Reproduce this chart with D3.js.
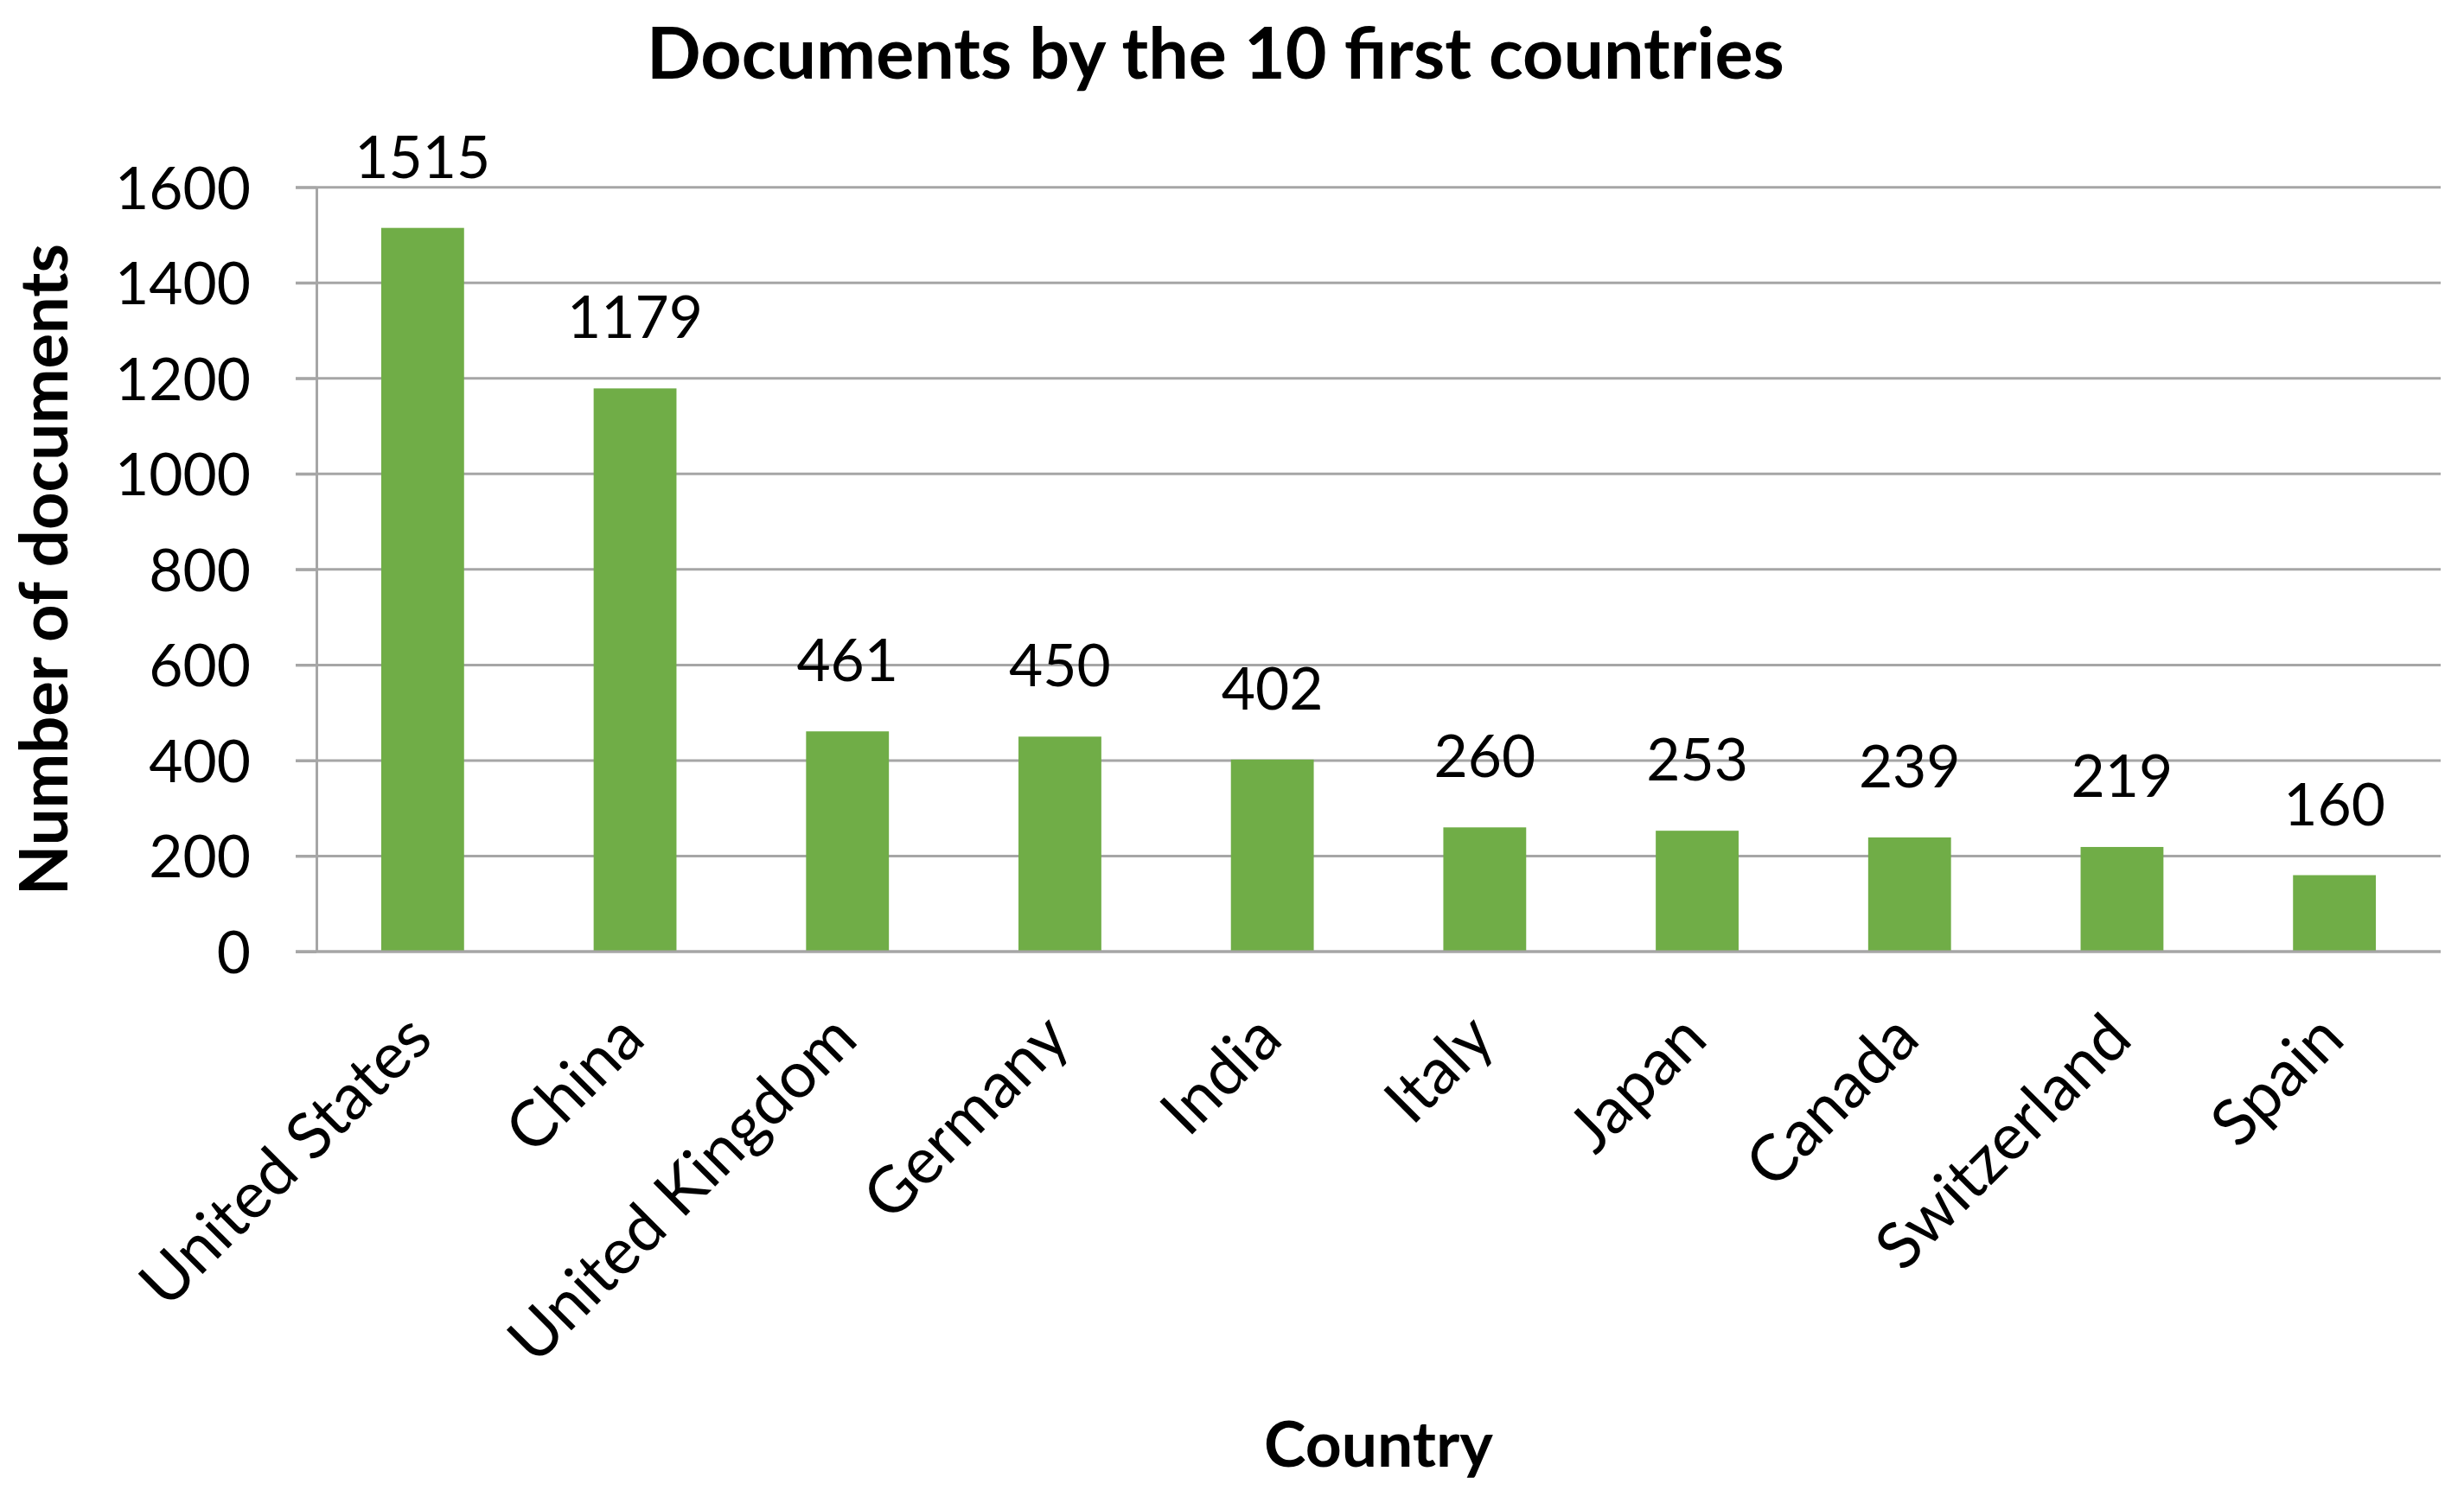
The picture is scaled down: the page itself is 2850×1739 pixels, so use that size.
<!DOCTYPE html>
<html>
<head>
<meta charset="utf-8">
<script src="https://cdn.jsdelivr.net/npm/d3@7"></script>
<style>
  html, body { margin: 0; padding: 0; background: #ffffff; }
  svg { display: block; }
</style>
</head>
<body>
<script>
// ---- data ----
const countries = ["United States", "China", "United Kingdom", "Germany", "India", "Italy", "Japan", "Canada", "Switzerland", "Spain"];
const documents = [1515, 1179, 461, 450, 402, 260, 253, 239, 219, 160];
const yTicks = [0, 200, 400, 600, 800, 1000, 1200, 1400, 1600];
const chartTitle = "Documents by the 10 first countries";
const xTitle = "Country";
const yTitle = "Number of documents";

// ---- layout ----
const W = 2850, H = 1739;
const plot = { left: 366, right: 2823, top: 216.7, bottom: 1101 };
const FONT = "Lato, 'Liberation Sans', sans-serif";

const svg = d3.select("body").append("svg").attr("width", W).attr("height", H);
svg.append("rect").attr("width", W).attr("height", H).attr("fill", "#ffffff");

function fit(text, weight, target) {
  const t = svg.append("text").attr("font-family", FONT).attr("font-weight", weight)
    .attr("font-size", 100).text(text);
  const w = t.node().getComputedTextLength();
  t.remove();
  return 100 * target / w;
}
const tickSize = fit("1600", 400, 157);
const catSize = fit("United States", 400, 439);
const titleSize = fit(chartTitle, 700, 1316);
const xTitleSize = fit(xTitle, 700, 265);
const yTitleSize = fit(yTitle, 700, 754);

const x = d3.scaleBand().domain(countries).range([plot.left, plot.right])
  .paddingInner(0.61).paddingOuter(0.305);
const y = d3.scaleLinear().domain([0, 1600]).range([plot.bottom, plot.top]);

const GRID = "#a6a6a6";

// gridlines
svg.append("g").selectAll("line").data(yTicks).join("line")
  .attr("x1", plot.left - 24).attr("x2", plot.right)
  .attr("y1", d => y(d)).attr("y2", d => y(d))
  .attr("stroke", GRID).attr("stroke-width", 3);

// y axis
const yAxis = d3.axisLeft(y).tickValues(yTicks).tickFormat(d3.format("d"))
  .tickSize(24).tickPadding(52).tickSizeOuter(0);
const gy = svg.append("g").attr("transform", `translate(${plot.left},0)`).call(yAxis);
gy.select(".domain").attr("stroke", GRID).attr("stroke-width", 3);
gy.selectAll(".tick line").attr("stroke", GRID).attr("stroke-width", 3);
gy.selectAll(".tick text").attr("font-family", FONT).attr("font-size", tickSize)
  .attr("fill", "#000").attr("dy", "0.36em");

// bars
svg.append("g").selectAll("rect").data(countries).join("rect")
  .attr("x", d => x(d)).attr("width", x.bandwidth())
  .attr("y", (d, i) => y(documents[i]))
  .attr("height", (d, i) => y(0) - y(documents[i]))
  .attr("fill", "#70ad47");

// x axis baseline
const xAxis = d3.axisBottom(x).tickSize(0).tickSizeOuter(0).tickFormat("");
const gx = svg.append("g").attr("transform", `translate(0,${plot.bottom})`).call(xAxis);
gx.select(".domain").attr("stroke", GRID).attr("stroke-width", 3)
  .attr("d", `M${plot.left - 24},0H${plot.right}`);

// data labels
svg.append("g").selectAll("text").data(countries).join("text")
  .attr("x", d => x(d) + x.bandwidth() / 2)
  .attr("y", (d, i) => y(documents[i]) - 58)
  .attr("text-anchor", "middle")
  .attr("font-family", FONT).attr("font-size", tickSize).attr("fill", "#000")
  .text((d, i) => documents[i]);

// category labels
svg.append("g").selectAll("text").data(countries).join("text")
  .attr("transform", d => `translate(${x(d) + x.bandwidth() / 2 - 4},${plot.bottom + 86}) rotate(-45)`)
  .attr("text-anchor", "end").attr("dy", "0.35em")
  .attr("font-family", FONT).attr("font-size", catSize).attr("fill", "#000")
  .text(d => d);

// titles
svg.append("text").attr("x", 1406).attr("y", 91).attr("text-anchor", "middle")
  .attr("font-family", FONT).attr("font-weight", 700).attr("font-size", titleSize)
  .attr("fill", "#000").text(chartTitle);

svg.append("text").attr("x", (plot.left + plot.right) / 2).attr("y", 1697).attr("text-anchor", "middle")
  .attr("font-family", FONT).attr("font-weight", 700).attr("font-size", xTitleSize)
  .attr("fill", "#000").text(xTitle);

svg.append("text").attr("transform", `translate(78,659) rotate(-90)`).attr("text-anchor", "middle")
  .attr("font-family", FONT).attr("font-weight", 700).attr("font-size", yTitleSize)
  .attr("fill", "#000").text(yTitle);
</script>
</body>
</html>
